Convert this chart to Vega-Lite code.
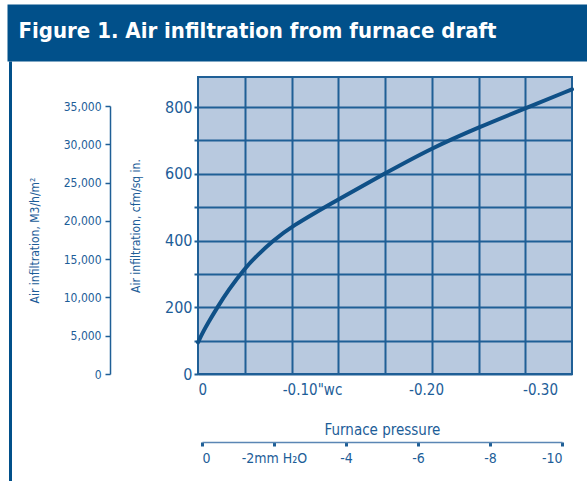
{
  "$schema": "https://vega.github.io/schema/vega-lite/v6.json",
  "width": 374,
  "height": 297,
  "autosize": {"type": "none"},
  "padding": {"left": 198, "top": 77, "right": 15, "bottom": 107},
  "background": "white",
  "config": {
    "view": {"fill": "#b8c9df", "stroke": "#1f5f96", "strokeWidth": 2},
    "font": "DejaVu Sans Condensed, Liberation Sans Narrow, Liberation Sans, sans-serif",
    "axis": {
      "labelColor": "#1d5d98",
      "titleColor": "#1d5d98",
      "domainColor": "#1f5f96",
      "tickColor": "#1f5f96",
      "gridColor": "#1f5f96",
      "gridOpacity": 1,
      "labelFont": "DejaVu Sans Condensed, Liberation Sans Narrow, Liberation Sans, sans-serif",
      "titleFont": "DejaVu Sans Condensed, Liberation Sans Narrow, Liberation Sans, sans-serif",
      "titleFontWeight": "normal"
    }
  },
  "data": {
    "values": [
      {"pressure": 0, "infiltration": 95},
      {"pressure": -0.0046, "infiltration": 127},
      {"pressure": -0.0088, "infiltration": 153},
      {"pressure": -0.017, "infiltration": 200},
      {"pressure": -0.0263, "infiltration": 250},
      {"pressure": -0.041, "infiltration": 317},
      {"pressure": -0.0526, "infiltration": 358},
      {"pressure": -0.0655, "infiltration": 398},
      {"pressure": -0.0807, "infiltration": 440},
      {"pressure": -0.1227, "infiltration": 523},
      {"pressure": -0.165, "infiltration": 603},
      {"pressure": -0.205, "infiltration": 677},
      {"pressure": -0.246, "infiltration": 739},
      {"pressure": -0.287, "infiltration": 796},
      {"pressure": -0.328, "infiltration": 853}
    ]
  },
  "resolve": {"scale": {"x": "independent", "y": "independent"}},
  "layer": [
    {
      "mark": {"type": "line", "interpolate": "basis", "strokeWidth": 4, "color": "#0f5087", "strokeCap": "round"},
      "encoding": {
        "x": {
          "field": "pressure", "type": "quantitative",
          "scale": {"domain": [0, -0.328], "nice": false, "zero": false},
          "axis": {
            "orient": "bottom", "values": [0, -0.1, -0.2, -0.3],
            "labelExpr": "datum.value > -0.05 ? '0' : datum.value > -0.15 ? '-0.10\"wc' : datum.value > -0.25 ? '-0.20' : '-0.30'",
            "grid": false, "ticks": false, "domain": false,
            "labelFontSize": 15, "labelPadding": 8, "title": null
          }
        },
        "y": {
          "field": "infiltration", "type": "quantitative",
          "scale": {"domain": [0, 890], "nice": false},
          "axis": {
            "orient": "left", "values": [0, 100, 200, 300, 400, 500, 600, 700, 800],
            "labelExpr": "datum.value % 200 == 0 ? datum.label : ''",
            "grid": true, "gridWidth": 2, "tickSize": 4, "tickWidth": 2, "domain": false,
            "labelFontSize": 16, "labelPadding": 2,
            "title": "Air infiltration, cfm/sq in.", "titleFontSize": 12, "titlePadding": 22
          }
        }
      }
    },
    {
      "mark": {"type": "point", "opacity": 0},
      "encoding": {
        "x": {
          "datum": 0, "type": "quantitative",
          "scale": {"domain": [0, -0.328], "nice": false, "zero": false},
          "axis": {
            "orient": "top", "values": [-0.041, -0.082, -0.123, -0.164, -0.205, -0.246, -0.287],
            "grid": true, "gridWidth": 2, "labels": false, "ticks": false, "domain": false, "title": null
          }
        }
      }
    },
    {
      "mark": {"type": "point", "opacity": 0},
      "encoding": {
        "x": {
          "datum": 0, "type": "quantitative",
          "scale": {"domain": [0, -10], "range": [4, 364], "nice": false, "zero": false},
          "axis": {
            "orient": "bottom", "offset": 68, "values": [0, -2, -4, -6, -8, -10],
            "labelExpr": "datum.value == 0 ? '0' : datum.value == -2 ? '-2mm H₂O' : '-' + (-datum.value)",
            "grid": false, "tickSize": 4, "tickWidth": 3, "domainWidth": 1.5, "domainColor": "#5a86b4",
            "labelFontSize": 14, "labelPadding": 5,
            "title": "Furnace pressure", "titleFontSize": 15, "titleY": -8, "titleBaseline": "alphabetic"
          }
        }
      }
    },
    {
      "mark": {"type": "point", "opacity": 0},
      "encoding": {
        "y": {
          "datum": 0, "type": "quantitative",
          "scale": {"domain": [0, 35000], "range": [297, 29], "nice": false},
          "axis": {
            "orient": "left", "offset": 88, "values": [0, 5000, 10000, 15000, 20000, 25000, 30000, 35000],
            "labelExpr": "format(datum.value, ',d')", "tickSize": 5, "tickWidth": 1.5, "domainWidth": 1.5, "grid": false,
            "labelFontSize": 12, "labelPadding": 4,
            "title": "Air infiltration, M3/h/m²", "titleFontSize": 12, "titlePadding": 22
          }
        }
      }
    },
    {
      "mark": {"type": "point", "opacity": 0},
      "encoding": {
        "x": {
          "datum": 0, "type": "quantitative",
          "scale": {"domain": [0, 1], "range": [-191, 389], "nice": false, "zero": false},
          "axis": {
            "orient": "top", "offset": 44.5, "domainWidth": 57, "domainColor": "#01508a",
            "ticks": false, "labels": false, "grid": false,
            "title": "Figure 1. Air infiltration from furnace draft",
            "titleColor": "white", "titleFontSize": 22, "titleFontWeight": "bold",
            "titleX": -180, "titleY": 4.5, "titleAlign": "left", "titleBaseline": "alphabetic"
          }
        }
      }
    },
    {
      "mark": {"type": "point", "opacity": 0},
      "encoding": {
        "y": {
          "datum": 0, "type": "quantitative",
          "scale": {"domain": [0, 1], "range": [404, -16], "nice": false, "zero": false},
          "axis": {
            "orient": "left", "offset": 188, "domainWidth": 3, "domainColor": "#01508a",
            "ticks": false, "labels": false, "grid": false, "title": null
          }
        }
      }
    }
  ]
}
